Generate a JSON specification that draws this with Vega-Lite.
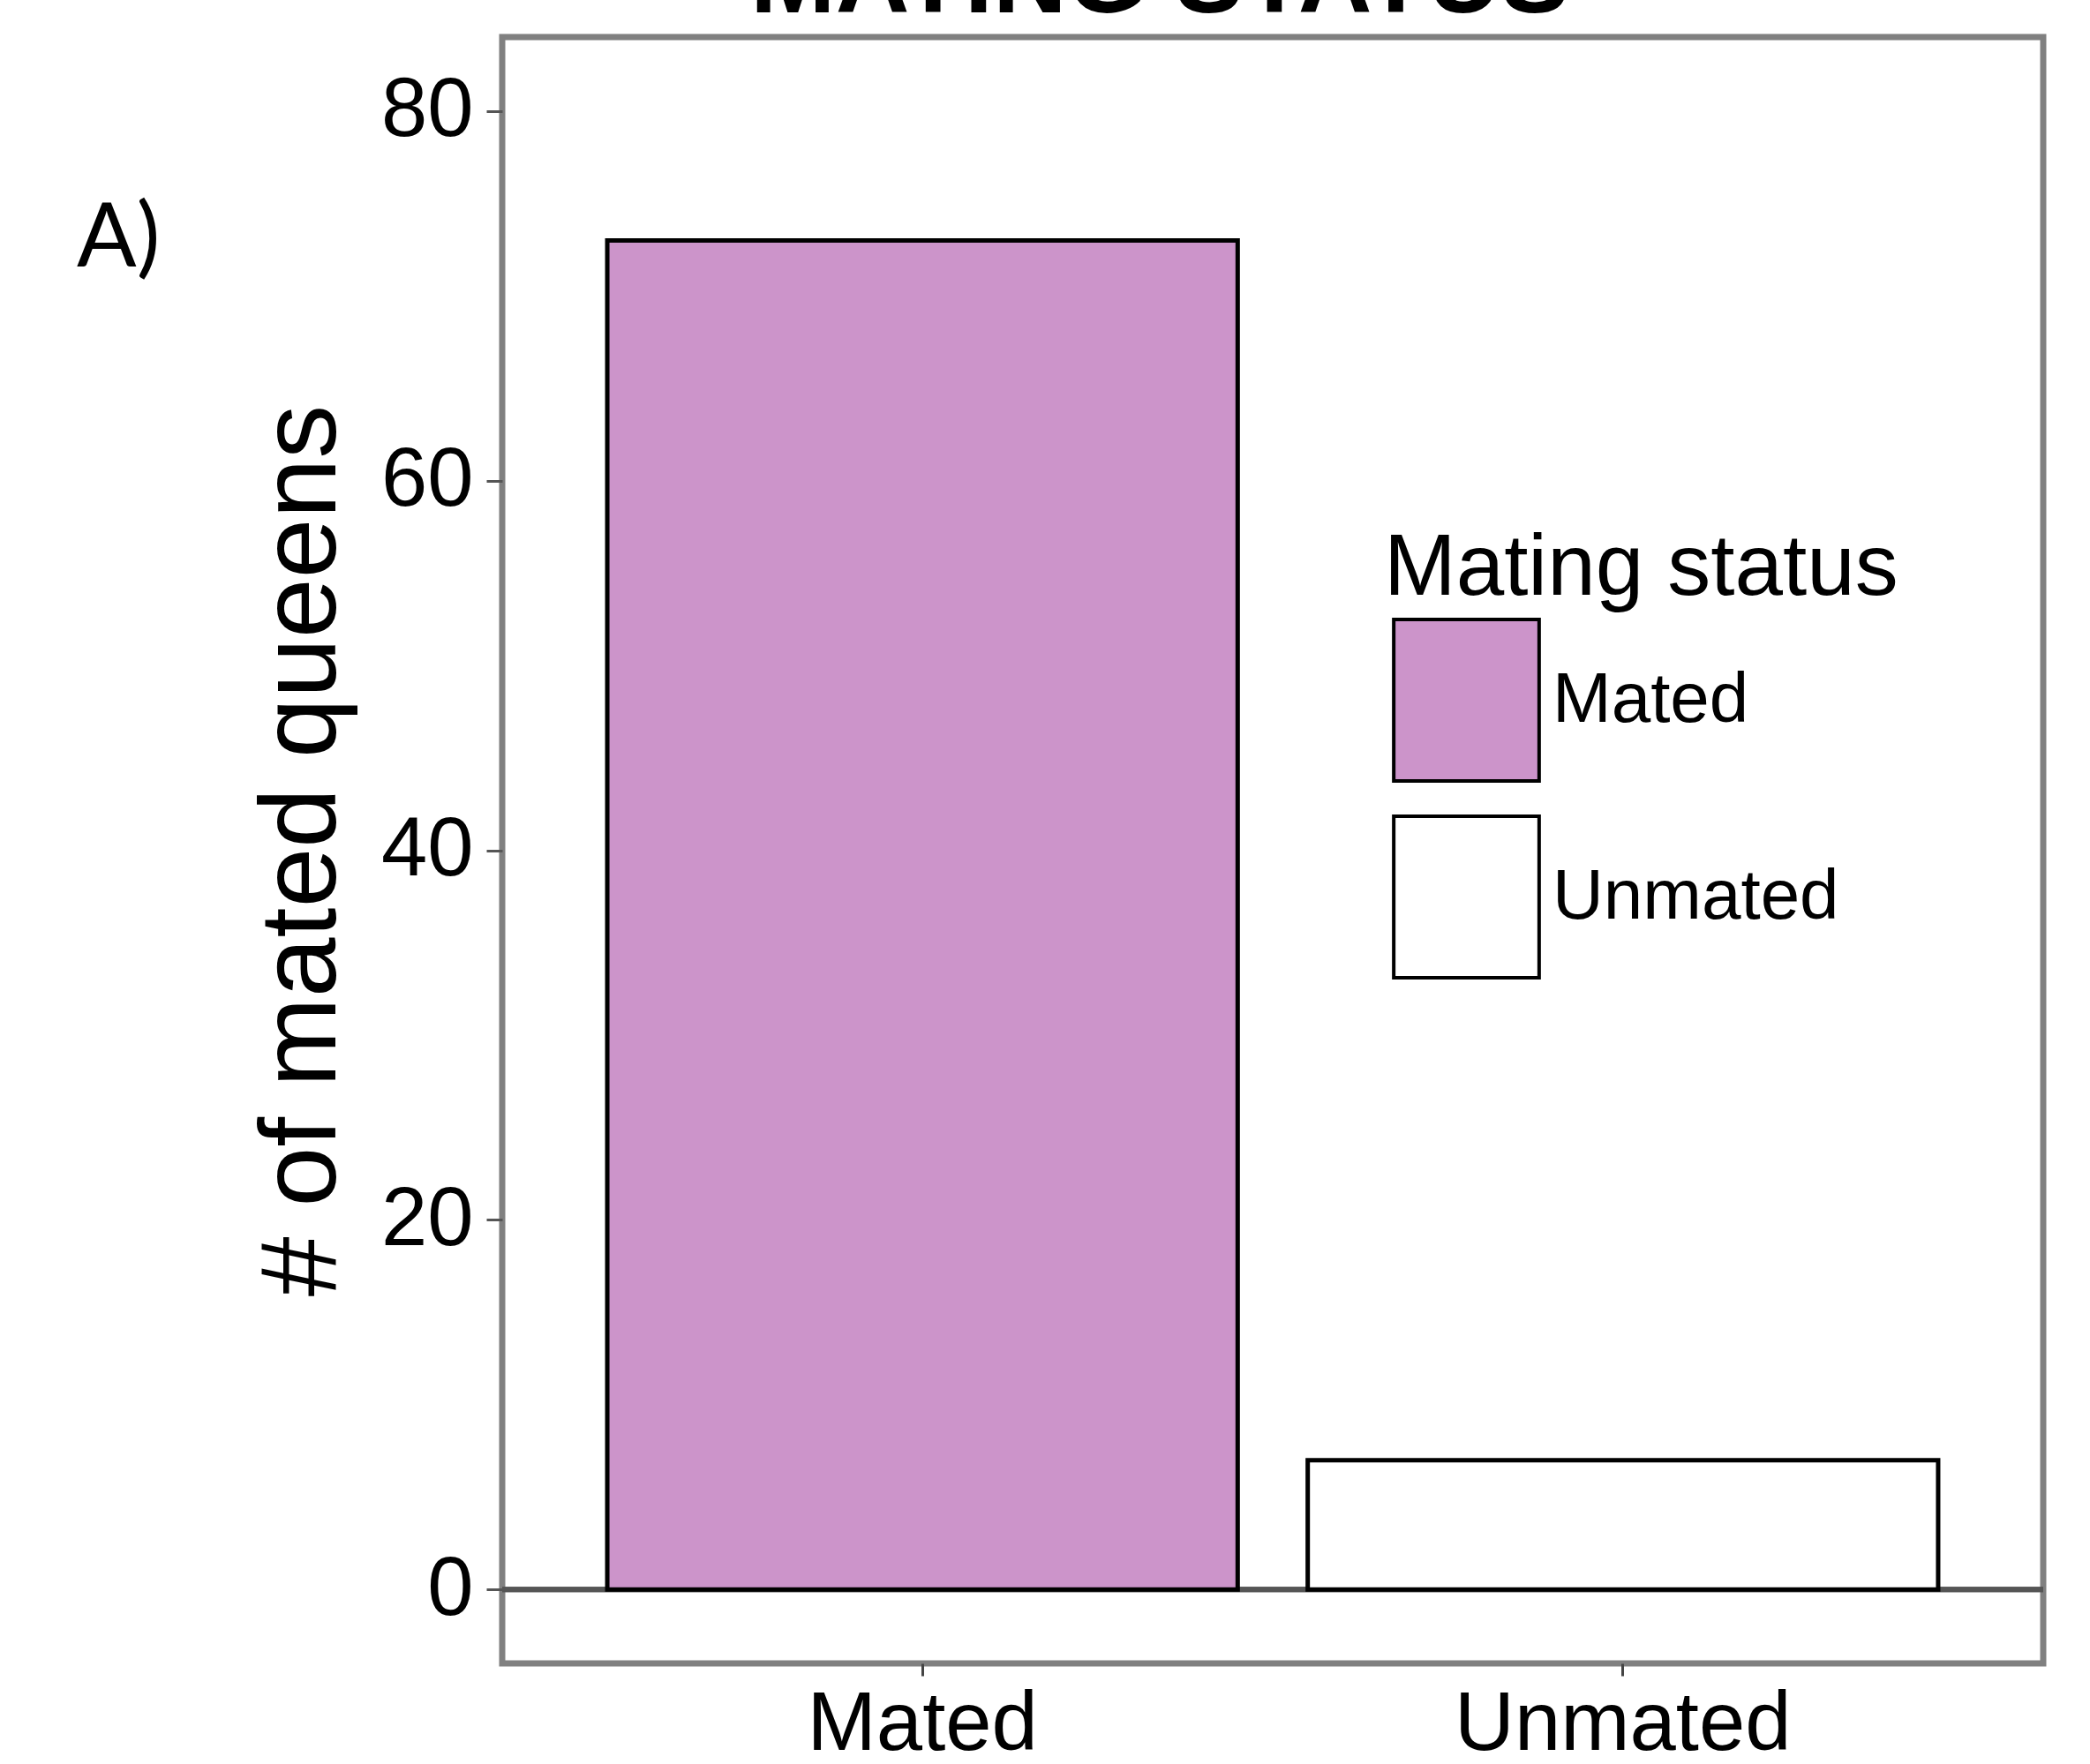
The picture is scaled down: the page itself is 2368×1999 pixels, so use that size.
{
  "$schema": "https://vega.github.io/schema/vega-lite/v6.json",
  "width": 1746,
  "height": 1843,
  "autosize": {"type": "none"},
  "padding": {"left": 569, "top": 42, "right": 53, "bottom": 114},
  "background": "white",
  "config": {
    "font": "Liberation Sans",
    "view": {"stroke": "#808080", "strokeWidth": 7}
  },
  "title": {
    "text": "MATING STATUS",
    "fontSize": 116,
    "fontWeight": "bold",
    "color": "black",
    "anchor": "middle",
    "frame": "group",
    "dx": -128,
    "dy": 88,
    "offset": 0,
    "limit": 3000,
    "baseline": "alphabetic"
  },
  "data": {
    "values": [
      {"status": "Mated", "count": 73},
      {"status": "Unmated", "count": 7}
    ]
  },
  "layer": [
    {
      "mark": {"type": "rule", "color": "#555555", "strokeWidth": 6},
      "encoding": {"y": {"datum": 0}}
    },
    {
      "mark": {"type": "bar", "stroke": "black", "strokeWidth": 5},
      "encoding": {
        "x": {
          "field": "status",
          "type": "nominal",
          "scale": {"paddingInner": 0.1, "paddingOuter": 0.15},
          "axis": {
            "title": null,
            "labelAngle": 0,
            "labelFontSize": 94,
            "labelColor": "black",
            "labelLimit": 2000,
            "tickColor": "#444444",
            "tickWidth": 3,
            "tickSize": 14,
            "labelPadding": 9,
            "domain": false,
            "grid": false
          }
        },
        "y": {
          "field": "count",
          "type": "quantitative",
          "scale": {"domain": [-4, 84], "nice": false, "zero": false},
          "axis": {
            "title": "# of mated queens",
            "titleFontSize": 122,
            "titleFontWeight": "normal",
            "titleColor": "black",
            "titlePadding": 26,
            "titleLimit": 3000,
            "values": [0, 20, 40, 60, 80],
            "labelFontSize": 94,
            "labelColor": "black",
            "labelLimit": 2000,
            "tickColor": "#555555",
            "tickWidth": 3,
            "tickSize": 18,
            "labelPadding": 15,
            "domain": false,
            "grid": false
          }
        },
        "fill": {
          "field": "status",
          "type": "nominal",
          "scale": {"domain": ["Mated", "Unmated"], "range": ["#CC94CA", "#FFFFFF"]},
          "legend": {
            "title": "Mating status",
            "orient": "none",
            "legendX": 999,
            "legendY": 555,
            "padding": 0,
            "titleFontSize": 98,
            "titleFontWeight": "normal",
            "titleColor": "black",
            "titleLimit": 3000,
            "titlePadding": 5,
            "labelFontSize": 80,
            "labelColor": "black",
            "labelLimit": 2000,
            "labelOffset": 4,
            "symbolType": "M-0.9,-1H0.9V1H-0.9Z",
            "symbolSize": 33489,
            "symbolStrokeColor": "black",
            "symbolStrokeWidth": 4,
            "symbolOpacity": 1,
            "rowPadding": 24
          }
        }
      }
    },
    {
      "data": {"values": [{"label": "A)"}]},
      "mark": {
        "type": "text",
        "font": "Lato",
        "fontSize": 100,
        "color": "black",
        "align": "center",
        "baseline": "middle",
        "dx": -911
      },
      "encoding": {
        "text": {"field": "label"},
        "x": {"datum": "Mated"},
        "y": {"datum": 73}
      }
    }
  ]
}
